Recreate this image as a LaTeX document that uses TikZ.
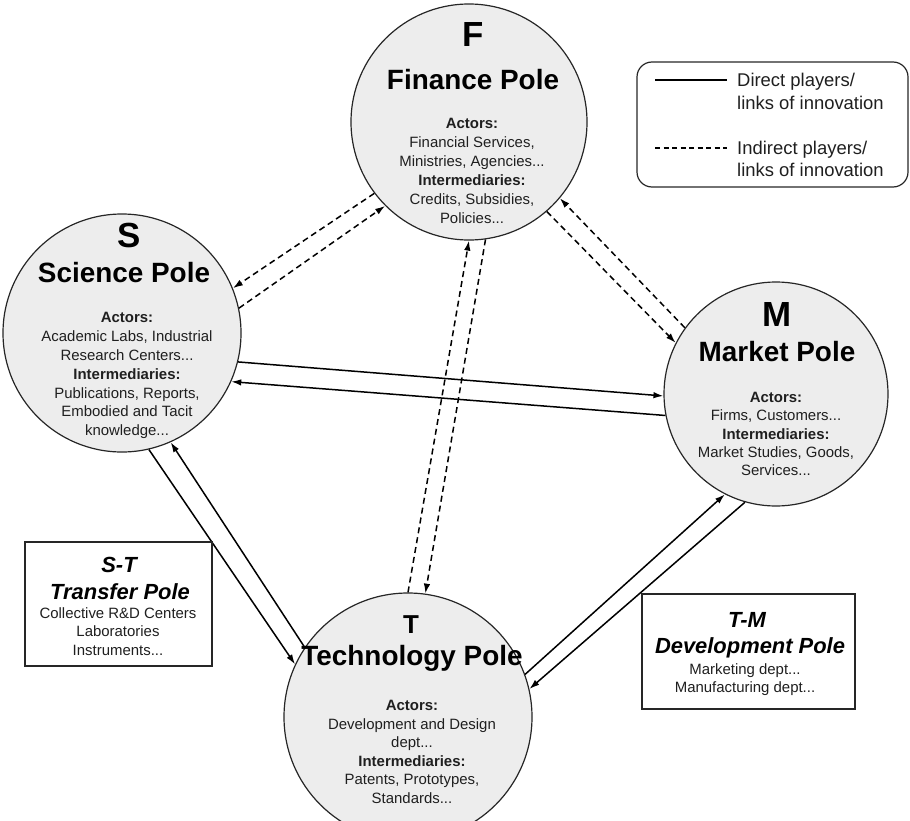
\documentclass[tikz,border=0pt]{standalone}
\usepackage{fontspec}
\setmainfont{Liberation Sans}
\usetikzlibrary{arrows.meta}
\begin{document}
\begin{tikzpicture}[x=1bp,y=-1bp,
  pole/.style={circle, draw=black!85, fill=black!7, line width=1.2bp, inner sep=0pt},
  letter/.style={font=\fontsize{35}{35}\selectfont\bfseries},
  poletitle/.style={font=\fontsize{28}{28}\selectfont\bfseries},
  body/.style={align=center, font=\fontsize{15}{19}\selectfont, text=black!88, inner sep=0pt},
  boxed/.style={draw=black!85, line width=1.2bp, fill=white, inner sep=0pt},
  boxtitle/.style={font=\fontsize{22}{27}\selectfont\bfseries\itshape, inner sep=0pt},
  legtext/.style={align=left, font=\fontsize{18.5}{22.5}\selectfont, text=black!88, anchor=west, inner sep=0pt},
  link/.style={line width=1.5bp, -{Latex[length=10bp,width=6.5bp]}},
  indirect/.style={link, dash pattern=on 6bp off 4bp},
]
\useasboundingbox (0,0) rectangle (910,821);

% poles
\node[pole, minimum size=236bp] (F) at (469,122) {};
\node[pole, minimum size=238bp] (S) at (122,333) {};
\node[pole, minimum size=224bp] (M) at (776,394) {};
\node[pole, minimum size=248bp] (T) at (408,717) {};

% F text
\node[letter] (Fl) at (473,35) {F};
\node[poletitle] (Ft) at (473,80) {Finance Pole};
\node[body] (Fb) at (472,171) {\textbf{Actors:}\\Financial Services,\\Ministries, Agencies...\\\textbf{Intermediaries:}\\Credits, Subsidies,\\Policies...};

% S text
\node[letter] (Sl) at (129,235) {S};
\node[poletitle] (St) at (124,273) {Science Pole};
\node[body] (Sb) at (127,375.5) {\textbf{Actors:}\\Academic Labs, Industrial\\Research Centers...\\\textbf{Intermediaries:}\\Publications, Reports,\\Embodied and Tacit\\knowledge...};

% M text
\node[letter] (Ml) at (777,315) {M};
\node[poletitle] (Mt) at (777,352) {Market Pole};
\node[body, font=\fontsize{15}{18.3}\selectfont] (Mb) at (776,434) {\textbf{Actors:}\\Firms, Customers...\\\textbf{Intermediaries:}\\Market Studies, Goods,\\Services...};

% T text
\node[letter, font=\fontsize{26}{26}\selectfont\bfseries] (Tl) at (411,625) {T};
\node[poletitle] (Tt) at (412,658) {Technology Pole};
\node[body, font=\fontsize{15}{18.6}\selectfont] (Tb) at (412,752) {\textbf{Actors:}\\Development and Design\\dept...\\\textbf{Intermediaries:}\\Patents, Prototypes,\\Standards...};

% dashed links with F
\draw[indirect] (F.217) -- (S.22);
\draw[indirect] (S.12.7) -- (F.225);
\draw[indirect] (F.311) -- (M.153.7);
\draw[indirect] (M.144.6) -- (F.320.7);
\draw[indirect] (T.90) -- (F.270.5);
\draw[indirect] (F.278) -- (T.82.2);

% solid links
\draw[link] (S.-14.6) -- (M.181.5);
\draw[link] (M.191.2) -- (S.-24.4);
\draw[link] (S.-77.7) -- (T.155.4);
\draw[link] (T.146.9) -- (S.-66.8);
\draw[link] (T.20.9) -- (M.243.9);
\draw[link] (M.254) -- (T.13.2);

% S-T box
\node[boxed, minimum width=187bp, minimum height=124bp] (ST) at (118.5,604) {};
\node[boxtitle] (STa) at (119,565) {S-T};
\node[boxtitle] (STb) at (120,592) {Transfer Pole};
\node[body, font=\fontsize{15}{18.5}\selectfont] (STc) at (118,631.5) {Collective R\&D Centers\\Laboratories\\Instruments...};

% T-M box
\node[boxed, minimum width=213bp, minimum height=115bp] (TM) at (748.5,651.5) {};
\node[boxtitle] (TMa) at (747,620) {T-M};
\node[boxtitle] (TMb) at (750,648) {Development Pole};
\node[body, font=\fontsize{15}{18.5}\selectfont] (TMc) at (745,679.5) {Marketing dept...\\Manufacturing dept...};

% legend
\node[draw=black!85, line width=1.2bp, rounded corners=15bp, minimum width=271bp, minimum height=125bp, inner sep=0pt] (legend) at (772.5,124.5) {};
\coordinate (la) at (655,80);
\coordinate (lb) at (727,80);
\coordinate (lc) at (655,148);
\coordinate (ld) at (727,148);
\draw[line width=1.4bp] (la) -- (lb);
\draw[line width=1.4bp, dash pattern=on 5bp off 3.5bp] (lc) -- (ld);
\node[legtext] (leg1) at (737,91.5) {Direct players/\\links of innovation};
\node[legtext] (leg2) at (737,159) {Indirect players/\\links of innovation};
\end{tikzpicture}
\end{document}
